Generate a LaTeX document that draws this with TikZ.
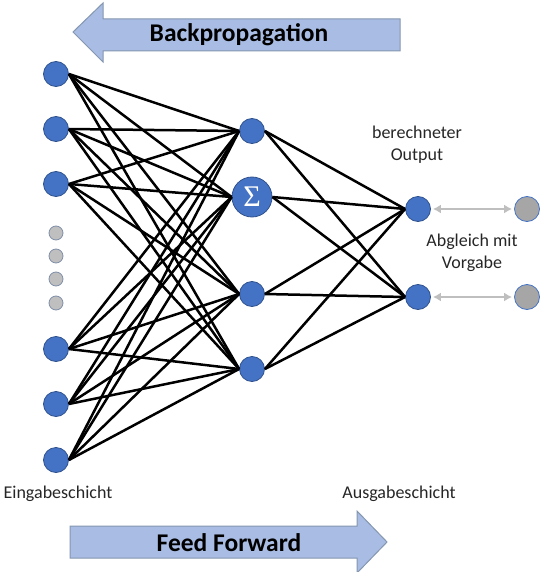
\documentclass[tikz,border=0pt]{standalone}
\usepackage{fontspec}
\setmainfont{Carlito}
\newfontfamily\sumfont{Liberation Serif}
\usetikzlibrary{arrows.meta}
\definecolor{nodeblue}{HTML}{4472C4}
\definecolor{nodeedge}{HTML}{2F528F}
\definecolor{bandfill}{HTML}{A9BCE3}
\definecolor{bandedge}{HTML}{8497B0}
\definecolor{dotfill}{HTML}{BFBFBF}
\definecolor{dotedge}{HTML}{7F8FA9}
\definecolor{targetfill}{HTML}{A6A6A6}
\definecolor{cmpline}{HTML}{BFBFBF}
\begin{document}
\begin{tikzpicture}[x=1pt,y=-1pt,
  neuron/.style={circle,fill=nodeblue,draw=nodeedge,line width=0.8pt,minimum size=25pt,inner sep=0pt},
  sumneuron/.style={circle,fill=nodeblue,draw=nodeedge,line width=0.8pt,minimum size=40pt,inner sep=0pt,text=white,font=\sumfont\fontsize{30}{30}\selectfont},
  gapdot/.style={circle,fill=dotfill,draw=dotedge,line width=0.8pt,minimum size=14pt,inner sep=0pt},
  target/.style={circle,fill=targetfill,draw=nodeblue,line width=0.8pt,minimum size=25pt,inner sep=0pt},
  weight/.style={black,line width=2.5pt},
  compare/.style={cmpline,line width=2.8pt,{Latex[length=8pt,width=9pt]}-{Latex[length=8pt,width=9pt]},shorten <=2pt,shorten >=2pt},
  band/.style={fill=bandfill,draw=bandedge,line width=1pt},
  bandtext/.style={font=\fontsize{25.5}{26}\selectfont\bfseries,text=black},
  label/.style={font=\fontsize{18}{22}\selectfont,text=black!85,align=center}]
\useasboundingbox (0,0) rectangle (541,572);

% direction bands
\draw[band] (73,32) -- (103,3) -- (103,19) -- (400,19) -- (400,51) -- (103,51) -- (103,62) -- cycle;
\node[bandtext] (bp) at (239,35) {Backpropagation};
\draw[band] (70,526) -- (357,526) -- (357,511) -- (387,542) -- (357,573) -- (357,558) -- (70,558) -- cycle;
\node[bandtext] (ff) at (229,543) {Feed Forward};

% input layer
\node[neuron] (i1) at (56,74) {};
\node[neuron] (i2) at (56,129) {};
\node[neuron] (i3) at (56,184) {};
\node[neuron] (i4) at (56,349) {};
\node[neuron] (i5) at (56,404) {};
\node[neuron] (i6) at (56,460) {};
\foreach \y/\n in {233/d1,256/d2,279/d3,303/d4}
  \node[gapdot] (\n) at (56,\y) {};

% hidden layer
\node[neuron] (h1) at (252,131) {};
\node[sumneuron] (h2) at (252,197) {Σ};
\node[neuron] (h3) at (252,294) {};
\node[neuron] (h4) at (252,369) {};

% output layer and targets
\node[neuron] (o1) at (418,209) {};
\node[neuron] (o2) at (418,297) {};
\node[target] (t1) at (527,209) {};
\node[target] (t2) at (527,297) {};

% weights
\foreach \i in {i1,i2,i3,i4,i5,i6}
  \foreach \h in {h1,h2,h3,h4}
    \draw[weight] (\i.east) -- (\h.west);
\foreach \h in {h1,h2,h3,h4}
  \foreach \o in {o1,o2}
    \draw[weight] (\h.east) -- (\o.west);

% comparison with the target values
\draw[compare] (o1) -- (t1);
\draw[compare] (o2) -- (t2);

% labels
\node[label] (lout) at (417,145) {berechneter\\Output};
\node[label] (lcmp) at (472,253) {Abgleich mit\\Vorgabe};
\node[label] (lin) at (58,494) {Eingabeschicht};
\node[label] (lex) at (399,494) {Ausgabeschicht};
\end{tikzpicture}
\end{document}
